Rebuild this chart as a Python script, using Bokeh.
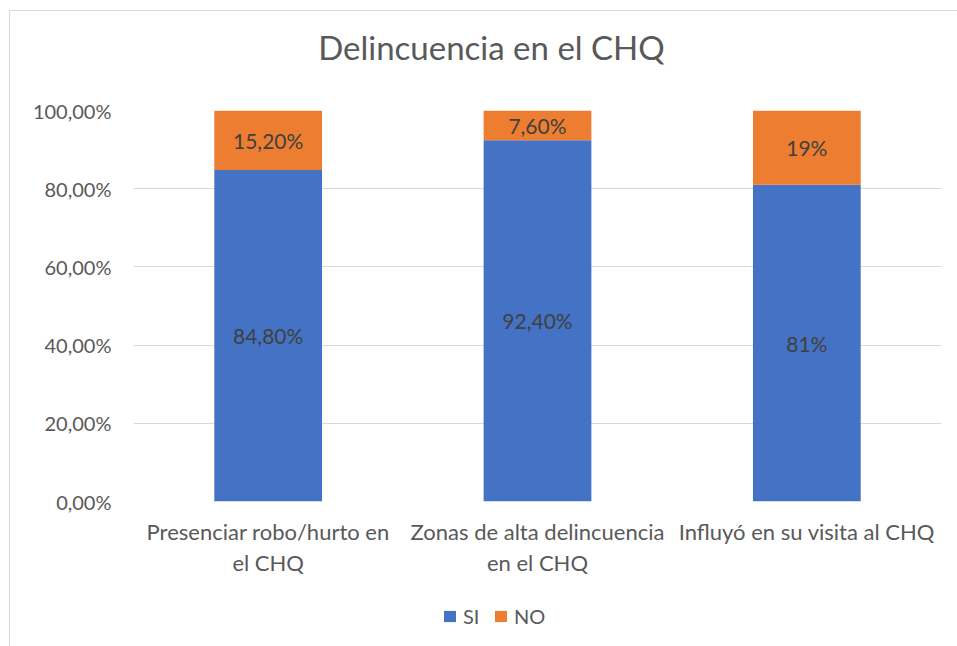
from bokeh.plotting import figure
from bokeh.models import ColumnDataSource, Legend, LegendItem, FixedTicker, LabelSet, Label
from bokeh.layouts import column
from bokeh.core.properties import value
from bokeh.embed import file_html
from bokeh.resources import INLINE

categories = ["Presenciar robo/hurto en\nel CHQ", "Zonas de alta delincuencia\nen el CHQ", "Influyó en su visita al CHQ"]
si_values = [84.8, 92.4, 81.0]
no_values = [15.2, 7.6, 19.0]
si_labels = ["84,80%", "92,40%", "81%"]
no_labels = ["15,20%", "7,60%", "19%"]
y_ticks = [0, 20, 40, 60, 80, 100]
y_tick_labels = ["0,00%", "20,00%", "40,00%", "60,00%", "80,00%", "100,00%"]
series_names = ["SI", "NO"]
title_text = "Delincuencia en el CHQ"

FONT = "Lato"
BLUE = "#4472C4"
ORANGE = "#ED7D31"
W = 947

src = ColumnDataSource(dict(
    cat=categories,
    si=si_values,
    no=no_values,
    si_mid=[v / 2 for v in si_values],
    no_mid=[s + n / 2 for s, n in zip(si_values, no_values)],
    si_lab=si_labels,
    no_lab=no_labels,
))

# title strip
pt = figure(width=W, height=70, output_backend="svg", toolbar_location=None,
            x_range=(0, 1), y_range=(0, 1), x_axis_location=None, y_axis_location=None,
            min_border_left=123, min_border_right=16, min_border_top=0, min_border_bottom=0)
pt.outline_line_color = None
pt.grid.visible = False
pt.add_layout(Label(x=0.443, y=0.5, text=title_text, text_align="center",
                    text_baseline="middle", text_font=FONT, text_font_size="33px",
                    text_color="#595959"))

# main chart
p = figure(x_range=categories, y_range=(0, 100), width=W, height=509,
           output_backend="svg", toolbar_location=None,
           min_border_left=123, min_border_right=16, min_border_top=29, min_border_bottom=89)
p.outline_line_color = None
p.background_fill_color = "white"
p.border_fill_color = "white"

r_si = p.vbar(x="cat", bottom=0, top="si", width=0.4, source=src, fill_color=BLUE, line_color=None)
r_no = p.vbar(x="cat", bottom="si", top=100, width=0.4, source=src, fill_color=ORANGE, line_color=None)

for col, ycol in (("si_lab", "si_mid"), ("no_lab", "no_mid")):
    p.add_layout(LabelSet(x="cat", y=ycol, text=col, source=src, text_align="center",
                          text_baseline="middle", text_font=value(FONT), text_font_size="21px",
                          text_color="#404040"))

p.xgrid.grid_line_color = None
p.ygrid.grid_line_color = "#d9d9d9"
p.ygrid.grid_line_width = 1
p.yaxis.ticker = FixedTicker(ticks=y_ticks)
p.yaxis.major_label_overrides = {t: l for t, l in zip(y_ticks, y_tick_labels)}

for ax in (p.xaxis, p.yaxis):
    ax.axis_line_color = None
    ax.major_tick_line_color = None
    ax.minor_tick_line_color = None
    ax.major_label_text_font = FONT
    ax.major_label_text_color = "#595959"
p.yaxis.major_label_text_font_size = "20px"
p.xaxis.major_label_text_font_size = "22px"
p.yaxis.major_label_standoff = 16
p.xaxis.major_label_standoff = 10
p.xaxis.major_label_text_line_height = 1.15

# legend strip below the chart
pl = figure(width=W, height=56, output_backend="svg", toolbar_location=None,
            x_range=(0, 1), y_range=(0, 1), x_axis_location=None, y_axis_location=None,
            min_border_left=123, min_border_right=16, min_border_top=0, min_border_bottom=0)
pl.outline_line_color = None
pl.grid.visible = False
l_si = pl.vbar(x=[0.5], bottom=[0], top=[0], width=0.01, fill_color=BLUE, line_color=None)
l_no = pl.vbar(x=[0.5], bottom=[0], top=[0], width=0.01, fill_color=ORANGE, line_color=None)
legend = Legend(items=[LegendItem(label=series_names[0], renderers=[l_si]),
                       LegendItem(label=series_names[1], renderers=[l_no])],
                orientation="horizontal", location=(309, 18),
                label_text_font=FONT, label_text_font_size="20px", label_text_color="#595959",
                glyph_width=15, glyph_height=14, label_standoff=6, spacing=10,
                padding=0, margin=0, border_line_color=None, background_fill_alpha=0)
pl.add_layout(legend, "center")

layout = column(pt, p, pl, spacing=0,
                styles={"margin-left": "9px", "margin-top": "10px",
                        "border-left": "1px solid #d9d9d9", "border-top": "1px solid #d9d9d9"})
open("out.html", "w").write(file_html(layout, INLINE))
